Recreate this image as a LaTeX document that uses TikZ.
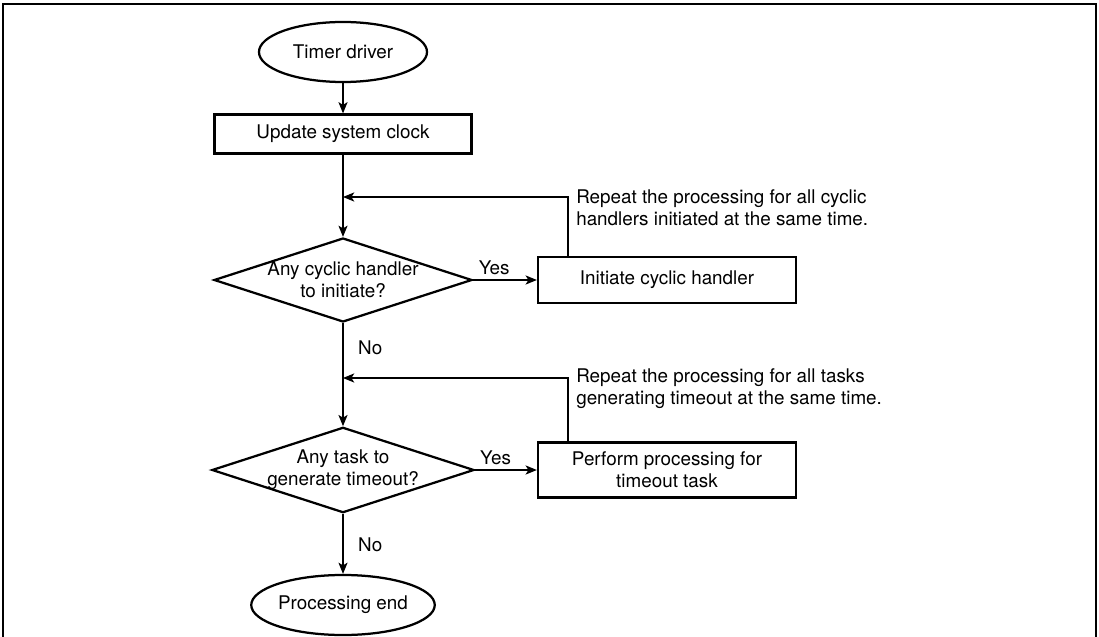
\documentclass[tikz,border=0pt]{standalone}
\usepackage{fontspec}
\setmainfont{TeX Gyre Heros}
\usetikzlibrary{arrows.meta,shapes.geometric}

\tikzset{
  term/.style={ellipse, draw, line width=1.6pt, minimum width=4.2cm, minimum height=1.5cm, inner sep=0pt},
  proc/.style={rectangle, draw, line width=1.6pt, minimum width=6.45cm, align=center, inner sep=0pt},
  decision/.style={diamond, draw, line width=1.6pt, aspect=3.07, minimum width=6.45cm, minimum height=2.1cm, inner sep=-1pt, align=center},
  flow/.style={line width=0.9pt, -{Stealth[length=8pt,width=6.5pt,inset=2pt]}},
  note/.style={anchor=west, align=left, inner sep=0pt},
}

\begin{document}
\begin{tikzpicture}[x=0.025cm, y=-0.025cm, every node/.style={font=\fontsize{13.4pt}{15.6pt}\selectfont}]
  \useasboundingbox (0,0) rectangle (1099,637);
  \draw[line width=2pt] (3,640) -- (3,4) -- (1096,4) -- (1096,640);

  \node[term] (start) at (343,52) {Timer driver};
  \node[proc, minimum width=6.425cm, minimum height=0.975cm] (clock) at (343,134) {Update system clock};
  \node[decision] (cyc) at (343,280) {Any cyclic handler\\to initiate?};
  \node[proc, minimum height=1.15cm] (init) at (667,280) {Initiate cyclic handler};
  \node[decision] (tmo) at (343,470) {Any task to\\generate timeout?};
  \node[proc, minimum height=1.375cm] (perf) at (667,470) {Perform processing for\\timeout task};
  \node[term] (finish) at (343,605) {Processing end};

  \coordinate (J1) at (343,197);
  \coordinate (R1) at (568,197);
  \coordinate (J2) at (343,378);
  \coordinate (R2) at (568,378);

  \draw[flow] (start) -- (clock);
  \draw[flow] (clock) -- (cyc);
  \draw[flow] (cyc) -- node[above, pos=0.33] {Yes} (init);
  \draw[flow] (R1 |- init.north) -- (R1) -- (J1);
  \draw[flow] (cyc) -- node[right, pos=0.24, xshift=7pt] {No} (tmo);
  \draw[flow] (tmo) -- node[above, pos=0.33] {Yes} (perf);
  \draw[flow] (R2 |- perf.north) -- (R2) -- (J2);
  \draw[flow] (tmo) -- node[right, pos=0.52, xshift=7pt] {No} (finish);

  \node[note] (note1) at (576,208) {Repeat the processing for all cyclic\\handlers initiated at the same time.};
  \node[note] (note2) at (576,389) {Repeat the processing for all tasks\\generating timeout at the same time.};
\end{tikzpicture}
\end{document}
